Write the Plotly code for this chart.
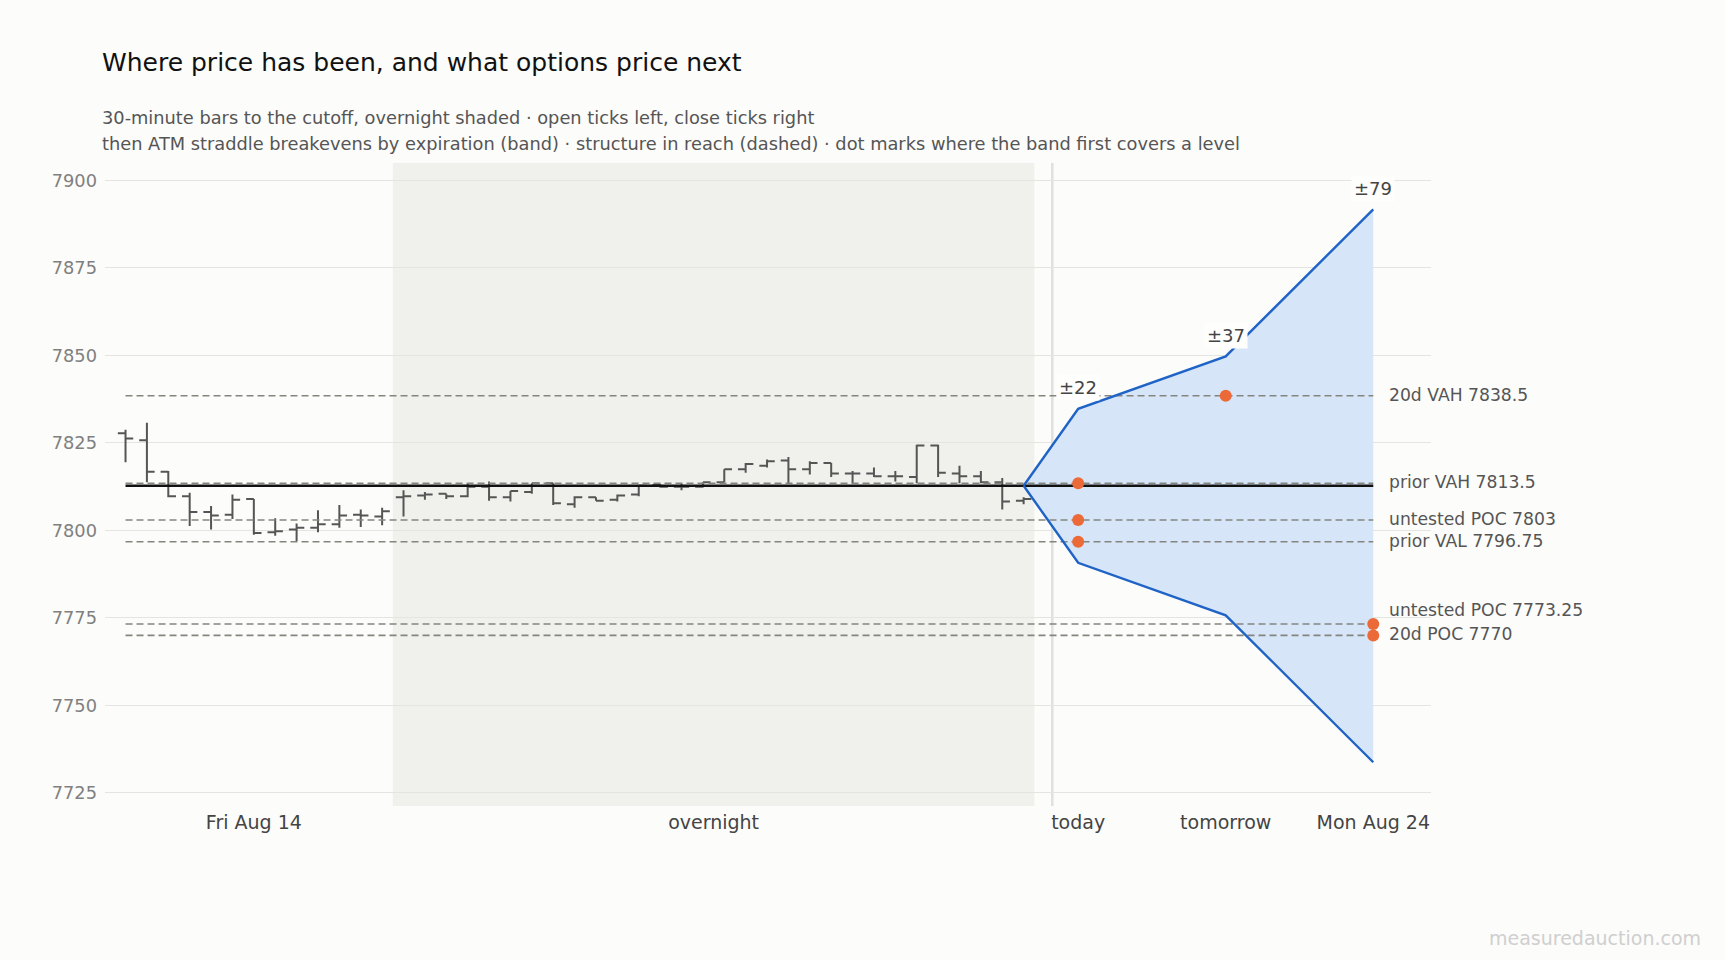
import plotly.graph_objects as go

# 30-minute bars up to the cutoff
bar_open = [7827.75, 7825.75, 7816.75, 7809.75, 7805.25, 7804.5, 7809.0, 7799.5, 7800.25, 7800.75,
            7801.75, 7804.5, 7804.0, 7809.5, 7810.0, 7810.5, 7809.75, 7812.5, 7809.5, 7811.0,
            7813.5, 7807.5, 7809.5, 7808.75, 7810.25, 7813.0, 7812.5, 7812.5, 7813.75, 7817.5,
            7818.5, 7820.0, 7817.5, 7819.25, 7816.25, 7816.25, 7815.5, 7815.25, 7824.25, 7816.25,
            7815.5, 7813.75, 7808.5]
bar_high = [7828.75, 7830.75, 7817.0, 7810.75, 7807.0, 7810.25, 7809.0, 7803.5, 7802.0, 7805.75,
            7807.25, 7806.0, 7806.5, 7811.5, 7811.0, 7810.5, 7813.25, 7814.0, 7811.25, 7813.5,
            7813.5, 7809.75, 7809.5, 7810.25, 7812.75, 7813.25, 7813.25, 7813.75, 7817.5, 7819.25,
            7820.25, 7821.0, 7819.75, 7819.25, 7817.0, 7818.0, 7817.0, 7824.5, 7824.5, 7818.5,
            7817.0, 7815.0, 7809.5]
bar_low = [7819.5, 7813.75, 7809.5, 7801.25, 7800.25, 7803.25, 7798.75, 7798.5, 7797.0, 7799.5,
           7800.75, 7801.0, 7801.5, 7804.0, 7808.75, 7809.0, 7809.5, 7808.5, 7808.25, 7810.5,
           7807.25, 7806.5, 7808.5, 7808.25, 7809.75, 7812.25, 7811.5, 7812.25, 7813.75, 7816.5,
           7818.0, 7813.5, 7816.0, 7815.25, 7813.5, 7815.25, 7814.0, 7813.5, 7815.25, 7813.5,
           7813.5, 7806.0, 7807.5]
bar_close = [7826.25, 7816.75, 7809.75, 7805.25, 7804.25, 7808.75, 7799.25, 7799.75, 7800.75, 7801.75,
             7804.25, 7804.25, 7805.5, 7809.75, 7810.25, 7809.75, 7812.5, 7809.5, 7811.25, 7813.5,
             7807.75, 7809.5, 7808.5, 7810.0, 7812.75, 7812.5, 7812.5, 7813.75, 7817.5, 7819.0,
             7819.75, 7817.5, 7819.25, 7816.25, 7816.25, 7815.5, 7815.5, 7824.25, 7816.5, 7815.5,
             7813.75, 7808.25, 7809.0]
n_session = 13          # Friday RTH bars, the rest is overnight
last_price = 7812.75

# ATM straddle breakevens by expiration
expiries = ["today", "tomorrow", "Mon Aug 24"]
straddle = [22, 37, 79]

# structure levels
level_names = ["20d VAH", "prior VAH", "untested POC", "prior VAL", "untested POC", "20d POC"]
level_prices = [7838.5, 7813.5, 7803, 7796.75, 7773.25, 7770]

# --- layout positions (x axis is a bar index, future expiries spaced after the cutoff)
n = len(bar_open)
xs = list(range(n))
exp_x = [n - 1 + 2.55, n - 1 + 9.45, n - 1 + 16.35]
divider_x = n - 1 + 1.34
label_shift = {4: 13}

BG = "#fcfcfa"
FONT = "DejaVu Sans"
BLUE = "#1f63c6"
ORANGE = "#ec6a37"

fig = go.Figure()

# band fill
up = [last_price + s for s in straddle]
dn = [last_price - s for s in straddle]
fig.add_trace(go.Scatter(
    x=[xs[-1]] + exp_x + exp_x[::-1] + [xs[-1]],
    y=[last_price] + up + dn[::-1] + [last_price],
    fill="toself", fillcolor="#d6e6f8", line=dict(width=0),
    mode="lines", hoverinfo="skip", showlegend=False))

# levels (dashed) and last price (solid)
x_end = exp_x[-1]
for p in level_prices:
    fig.add_trace(go.Scatter(x=[0, x_end], y=[p, p], mode="lines",
                             line=dict(color="#85857f", width=1.6, dash="7px,4px"),
                             hoverinfo="skip", showlegend=False))
fig.add_trace(go.Scatter(x=[0, x_end], y=[last_price, last_price], mode="lines",
                         line=dict(color="#111111", width=2.5),
                         hoverinfo="skip", showlegend=False))

# band edges
for edge in (up, dn):
    fig.add_trace(go.Scatter(x=[xs[-1]] + exp_x, y=[last_price] + edge, mode="lines",
                             line=dict(color=BLUE, width=2.4),
                             hoverinfo="skip", showlegend=False))

# OHLC bars
fig.add_trace(go.Ohlc(
    x=xs, open=bar_open, high=bar_high, low=bar_low, close=bar_close,
    increasing=dict(line=dict(color="#555555", width=2)),
    decreasing=dict(line=dict(color="#555555", width=2)),
    tickwidth=0.36, hoverinfo="skip", showlegend=False))

# dot where band first covers each level
dot_x, dot_y = [], []
for p in level_prices:
    for i, s in enumerate(straddle):
        if abs(p - last_price) <= s:
            dot_x.append(exp_x[i])
            dot_y.append(p)
            break
fig.add_trace(go.Scatter(x=dot_x, y=dot_y, mode="markers",
                         marker=dict(color=ORANGE, size=12),
                         hoverinfo="skip", showlegend=False))

# overnight shading + cutoff divider
fig.add_shape(type="rect", xref="x", yref="paper", x0=n_session - 0.5, x1=n - 0.5,
              y0=0, y1=1, fillcolor="#f0f0ec", line=dict(width=0), layer="below")
fig.add_shape(type="line", xref="x", yref="paper", x0=divider_x, x1=divider_x,
              y0=0, y1=1, line=dict(color="#e0e0dc", width=2.5), layer="below")

# annotations: straddle sizes
for i, s in enumerate(straddle):
    fig.add_annotation(x=exp_x[i], y=up[i], text="±%d" % s, showarrow=False,
                       yshift=21, font=dict(family=FONT, size=18, color="#444444"),
                       bgcolor="#fefefd", borderpad=2)

# level labels at the right
for i, (name, p) in enumerate(zip(level_names, level_prices)):
    txt = "%s %s" % (name, ("%g" % p))
    fig.add_annotation(x=x_end, y=p, text=txt, showarrow=False, xanchor="left",
                       xshift=14, yshift=1 + label_shift.get(i, 0),
                       font=dict(family=FONT, size=17.2, color="#555555"))

# titles
fig.add_annotation(xref="paper", yref="paper", x=-0.004, y=1.157, xanchor="left", yanchor="middle",
                   text="Where price has been, and what options price next", showarrow=False,
                   font=dict(family=FONT, size=25, color="#111111"))
fig.add_annotation(xref="paper", yref="paper", x=-0.004, y=1.070, xanchor="left", yanchor="middle",
                   text="30-minute bars to the cutoff, overnight shaded · open ticks left, close ticks right",
                   showarrow=False, font=dict(family=FONT, size=17.8, color="#555555"))
fig.add_annotation(xref="paper", yref="paper", x=-0.004, y=1.031, xanchor="left", yanchor="middle",
                   text="then ATM straddle breakevens by expiration (band) · structure in reach (dashed) · "
                        "dot marks where the band first covers a level",
                   showarrow=False, font=dict(family=FONT, size=17.8, color="#555555"))
fig.add_annotation(xref="paper", yref="paper", x=1.205, y=-0.205, xanchor="right", yanchor="middle",
                   text="measuredauction.com", showarrow=False,
                   font=dict(family=FONT, size=19, color="#cfcfcf"))

fig.update_layout(
    width=1725, height=960,
    margin=dict(l=105, r=294, t=163, b=154),
    paper_bgcolor=BG, plot_bgcolor=BG,
    font=dict(family=FONT),
    showlegend=False,
    xaxis=dict(range=[-0.96, 61.05], showgrid=False, zeroline=False, showline=False,
               rangeslider=dict(visible=False),
               tickvals=[(n_session - 1) / 2, (n_session - 0.5 + n - 0.5) / 2] + exp_x,
               ticktext=["Fri Aug 14", "overnight"] + expiries,
               tickfont=dict(size=19, color="#444444"), ticks="", ticklabelstandoff=3),
    yaxis=dict(range=[7721.25, 7905], tick0=7725, dtick=25, showgrid=True,
               gridcolor="#e4e4e0", gridwidth=1.3, zeroline=False, showline=False,
               tickfont=dict(size=17.8, color="#808080"), ticks="", ticklabelstandoff=7),
)

# page has no body margin so the figure sits flush in the window
fig.write_html("out.html", config={"displayModeBar": False},
               post_script="document.body.style.margin='0';")
